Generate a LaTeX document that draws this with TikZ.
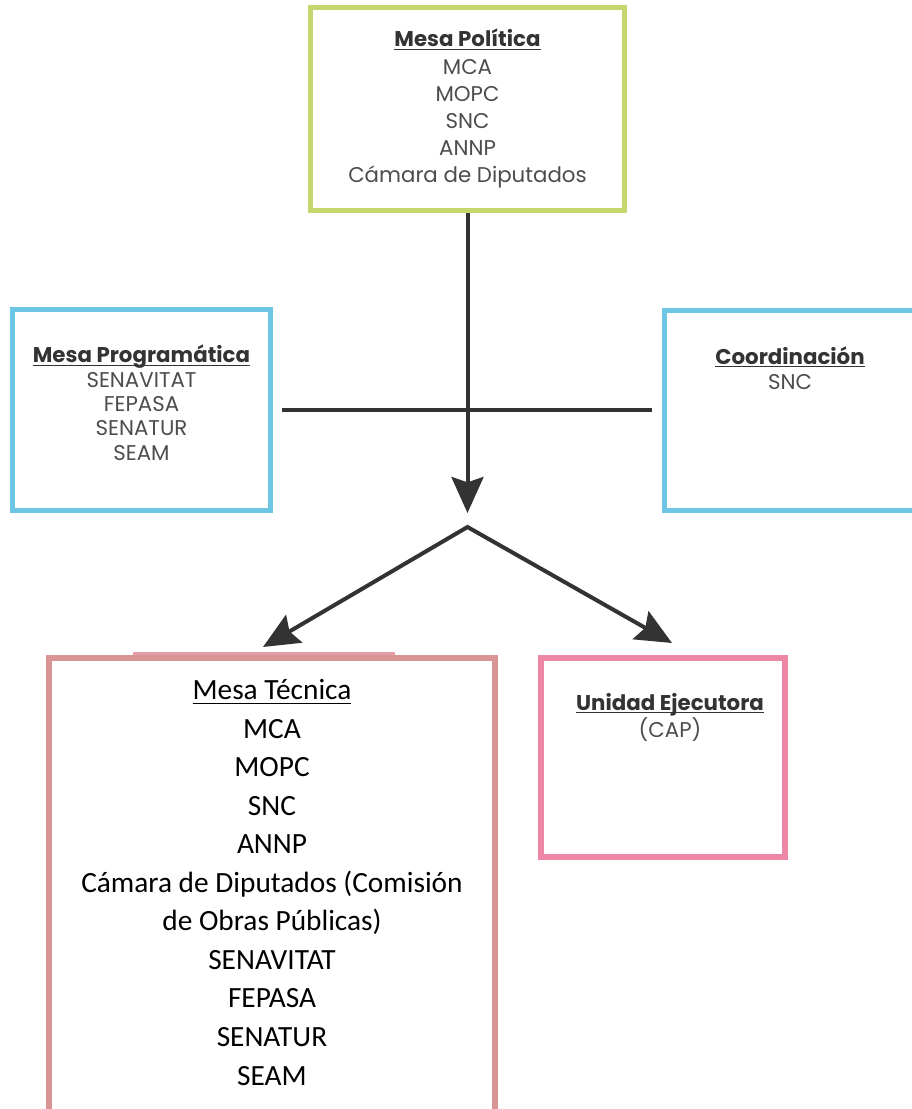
\documentclass[tikz,border=0pt]{standalone}
\usepackage{fontspec}
\newfontfamily\gothic{Poppins}
\newfontfamily\calib{Carlito}
\usetikzlibrary{arrows.meta}
\newcommand\myul[2][2pt]{\setbox0\hbox{#2}\rlap{\rule[-#1]{\wd0}{0.8pt}}\box0}
\definecolor{greenC}{HTML}{C4D86E}
\definecolor{blueC}{HTML}{6EC6E6}
\definecolor{roseC}{HTML}{D99594}
\definecolor{roseL}{HTML}{E59DA8}
\definecolor{pinkC}{HTML}{EE87A5}
\definecolor{lineC}{HTML}{333333}
\definecolor{itemC}{HTML}{4D4D4D}
\definecolor{titleC}{HTML}{333333}
\begin{document}
\begin{tikzpicture}[x=0.75pt,y=-0.75pt,
  box/.style={draw, line width=3.75pt, inner sep=0pt, outer sep=1.875pt, fill=white},
  boxw/.style={draw, line width=4.5pt, inner sep=0pt, outer sep=2.25pt, fill=white},
  conn/.style={draw=lineC, line width=3pt},
  arrowhd/.style={-{Stealth[length=27pt,width=24pt,inset=4pt]}},
  arrowboth/.style={{Stealth[length=27pt,width=24pt,inset=4pt]}-{Stealth[length=27pt,width=24pt,inset=4pt]}},
  gtxt/.style={font=\gothic\fontsize{16}{20.4}\selectfont, text=itemC, align=center, anchor=base, inner sep=0pt},
  ctxt/.style={font=\calib\fontsize{22}{28.9}\selectfont, text=black, align=center, anchor=base, inner sep=0pt}]
\useasboundingbox (0,0) rectangle (912,1109);
\begin{scope}
\clip (0,0) rectangle (912,1109);
% boxes
\node[box, draw=greenC, minimum width=235.5pt, minimum height=152.25pt] (pol) at (467.5,109) {};
\node[box, draw=blueC, minimum width=193.5pt, minimum height=150.75pt] (prog) at (141.5,410) {};
\node[box, draw=blueC, minimum width=191.25pt, minimum height=150pt] (coord) at (792,410.5) {};
\node[boxw, draw=roseC, minimum width=334.5pt, minimum height=346.5pt] (tec) at (272,889) {};
\fill[roseL] (133,652.3) rectangle (395,654.6);
\node[boxw, draw=pinkC, minimum width=183pt, minimum height=149.25pt] (ejec) at (663,757.5) {};
% texts (anchor base = baseline of last line)
\node[gtxt] (poltxt) at (467.5,183) {{\color{titleC}\bfseries\myul{Mesa Política}}\\MCA\\MOPC\\SNC\\ANNP\\Cámara de Diputados};
\node[gtxt, font=\gothic\fontsize{16}{18.2}\selectfont] (progtxt) at (141.5,460) {{\color{titleC}\bfseries\myul{Mesa Programática}}\\SENAVITAT\\FEPASA\\SENATUR\\SEAM};
\node[gtxt, font=\gothic\fontsize{16}{18.75}\selectfont] (coordtxt) at (790,389) {{\color{titleC}\bfseries\myul{Coordinación}}\\SNC};
\node[gtxt, font=\gothic\fontsize{16}{18.75}\selectfont] (ejectxt) at (670,737) {{\color{titleC}\bfseries\myul{Unidad Ejecutora}}\\(CAP)};
\node[ctxt] (tectxt) at (272,1085) {\myul[3pt]{Mesa Técnica}\\MCA\\MOPC\\SNC\\ANNP\\Cámara de Diputados (Comisión\\de Obras Públicas)\\SENAVITAT\\FEPASA\\SENATUR\\SEAM};
% connectors
\coordinate (hl) at (282,410);
\coordinate (hr) at (652,410);
\coordinate (vtip) at (467.5,513);
\coordinate (fork) at (467.5,527);
\coordinate (tl) at (263,647);
\coordinate (tr) at (672,643);
\draw[conn] (hl) -- (hr);
\draw[conn, arrowhd] (pol.south) -- (vtip);
\draw[conn, arrowboth, line join=miter] (tl) -- (fork) -- (tr);
\end{scope}
\end{tikzpicture}
\end{document}
